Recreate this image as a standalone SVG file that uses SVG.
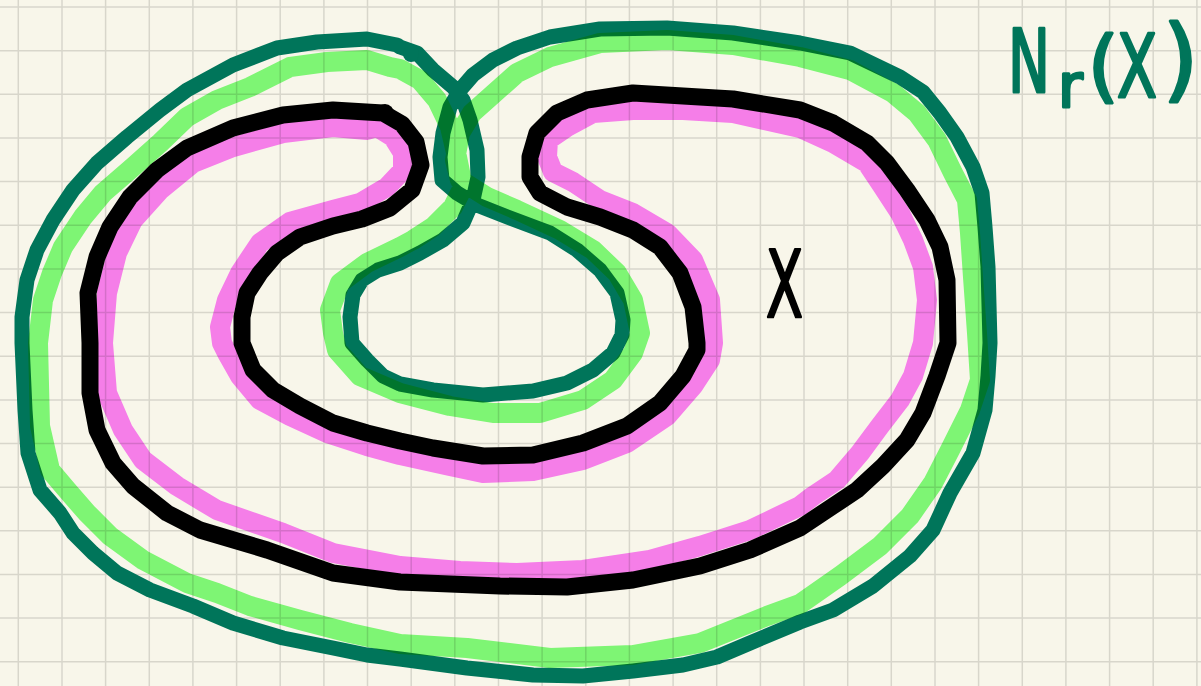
<svg xmlns="http://www.w3.org/2000/svg" width="1201" height="686" viewBox="0 0 1201 686">
<style>
.grid{stroke:#000;stroke-opacity:0.13;stroke-width:1.5;fill:none}
.ink{fill:none;stroke-linejoin:round;stroke-linecap:round}
.teal{stroke:#00755a;stroke-width:15}
.blk{stroke:#000;stroke-width:17}
.hl{mix-blend-mode:multiply;fill:none;stroke-linejoin:round;stroke-linecap:round;stroke-width:20}
.lg{stroke:#82fe7e}
.pk{stroke:#fc83fd}
.lbl{font-family:"DejaVu Sans",sans-serif;stroke-linejoin:round}
</style>
<rect width="1201" height="686" fill="#f8f6ea"/>
<path class="grid" d="M18.3,0V686M62,0V686M105.6,0V686M149.3,0V686M192.9,0V686M236.6,0V686M280.2,0V686M323.9,0V686M367.5,0V686M411.2,0V686M454.8,0V686M498.5,0V686M542.1,0V686M585.8,0V686M629.4,0V686M673.1,0V686M716.7,0V686M760.4,0V686M804,0V686M847.7,0V686M891.3,0V686M935,0V686M978.6,0V686M1022.3,0V686M1065.9,0V686M1109.6,0V686M1153.2,0V686M1196.9,0V686M0,7H1201M0,50.7H1201M0,94.3H1201M0,138H1201M0,181.6H1201M0,225.3H1201M0,268.9H1201M0,312.6H1201M0,356.2H1201M0,399.9H1201M0,443.5H1201M0,487.2H1201M0,530.8H1201M0,574.5H1201M0,618.1H1201M0,661.8H1201"/>
<g id="set-X">
<path class="ink blk" d="M383,113 L402,124 L416,142 L421,165 L412,190 L390,208 L362,219 L333,226 L300,237 L277,253 L260,273 L247,293 L242,317 L242,343 L253,370 L273,390 L300,406 L333,423 L367,433 L400,441 L433,448 L483,456 L533,455 L583,443 L627,426 L660,403 L683,376 L697,350 L697,343 L693,307 L680,273 L660,247 L633,230 L600,217 L567,207 L540,193 L530,177 L530,157 L537,133 L557,113 L587,100 L633,93 L683,96 L733,99 L800,110 L833,123 L867,143 L887,163 L907,190 L927,220 L940,247 L947,280 L948,343 L937,376 L923,413 L907,440 L883,466 L857,490 L833,506 L800,528 L750,550 L700,566 L633,580 L567,587 L500,586 L450,584 L400,582 L333,573 L267,550 L200,530 L167,513 L133,486 L113,463 L97,430 L90,393 L90,343 L88,293 L97,257 L110,227 L130,197 L157,170 L187,148 L233,128 L283,115 L333,110 Z"/>
<circle cx="385" cy="113" r="9" fill="#000"/>
</g>
<g id="neighbourhood">
<path class="ink teal" d="M400,47 L417,53 L433,70 L453,87 L463,100 L470,120 L477,150 L478,177 L473,200 L463,223 L443,240 L420,253 L400,263 L378,270 L362,280 L353,295 L350,317 L352,343 L367,360 L383,376 L400,384 L433,390 L483,395 L533,391 L567,383 L593,370 L613,353 L622,335 L623,320 L617,293 L600,270 L577,250 L550,233 L510,218 L477,205 L457,193 L442,180 L440,157 L443,133 L450,107 L460,90 L473,75 L493,60 L517,48 L550,37 L600,29 L667,28 L733,33 L800,43 L850,53 L900,77 L923,92 L940,113 L957,137 L973,167 L982,193 L985,227 L988,267 L990,343 L988,376 L985,410 L973,453 L950,493 L933,530 L910,556 L873,586 L833,610 L800,622 L750,643 L717,657 L683,665 L633,671 L583,676 L533,675 L467,668 L400,659 L367,655 L333,648 L283,638 L233,623 L193,606 L150,590 L117,573 L93,553 L73,533 L60,513 L40,490 L28,453 L25,410 L22,343 L22,317 L27,280 L37,250 L53,220 L73,190 L97,163 L127,137 L160,110 L187,90 L233,65 L277,48 L317,42 L367,39 L397,45 Z"/>
<circle cx="411" cy="54" r="8" fill="#00755a"/>
</g>
<g id="highlights">
<path class="hl pk" d="M367,130 L377,127 L393,137 L403,153 L403,170 L387,187 L360,203 L333,210 L290,222 L260,243 L240,273 L227,300 L220,327 L222,343 L227,353 L240,376 L260,400 L290,416 L327,433 L367,446 L400,455 L450,466 L483,473 L533,471 L583,460 L627,443 L667,416 L693,386 L710,360 L713,343 L710,300 L693,260 L667,233 L633,213 L600,200 L573,182 L553,172 L547,157 L548,140 L567,127 L593,113 L633,110 L683,110 L733,113 L800,128 L833,143 L867,163 L883,187 L900,213 L913,240 L923,267 L927,300 L923,343 L913,376 L900,400 L880,426 L860,453 L837,480 L813,496 L800,506 L750,530 L700,546 L650,560 L583,570 L517,573 L460,571 L400,566 L333,553 L283,533 L217,510 L177,486 L143,460 L123,430 L107,393 L103,343 L107,293 L117,253 L133,220 L160,190 L193,163 L233,147 L283,133 L333,127 Z"/>
<path class="hl lg" d="M390,67 L400,69 L420,80 L437,100 L450,127 L457,157 L463,187 L453,207 L433,227 L413,240 L400,247 L367,263 L340,283 L330,310 L333,333 L337,350 L360,376 L400,393 L450,406 L493,413 L540,413 L583,400 L613,380 L633,353 L640,333 L633,300 L617,273 L593,250 L560,230 L517,210 L487,197 L460,180 L455,160 L460,133 L472,113 L490,97 L517,73 L550,57 L600,43 L667,40 L733,45 L800,57 L850,70 L893,93 L917,113 L937,140 L953,173 L967,200 L970,233 L973,277 L977,333 L980,380 L970,410 L950,450 L933,483 L910,516 L880,546 L840,576 L800,604 L767,616 L700,643 L633,655 L550,658 L467,648 L400,644 L350,633 L300,620 L250,606 L217,593 L187,583 L143,560 L110,536 L87,513 L67,490 L50,470 L40,426 L38,343 L43,300 L52,273 L63,247 L83,217 L103,193 L133,167 L160,143 L187,117 L217,100 L250,87 L290,67 L327,62 L367,60 Z"/>
</g>
<g id="labels">
<text class="lbl" x="766" y="317" font-size="93" textLength="37" lengthAdjust="spacingAndGlyphs" fill="#000" stroke="#000" stroke-width="2.5">X</text>
<text class="lbl" fill="#00755a" stroke="#00755a" stroke-width="3"><tspan x="1008" y="92" font-size="88" textLength="42" lengthAdjust="spacingAndGlyphs">N</tspan><tspan x="1058" y="107" font-size="60">r</tspan><tspan x="1088" y="93" font-size="78">(</tspan><tspan x="1117" y="97" font-size="88" textLength="40" lengthAdjust="spacingAndGlyphs">X</tspan><tspan x="1163" y="90" font-size="90">)</tspan></text>
</g>
</svg>
